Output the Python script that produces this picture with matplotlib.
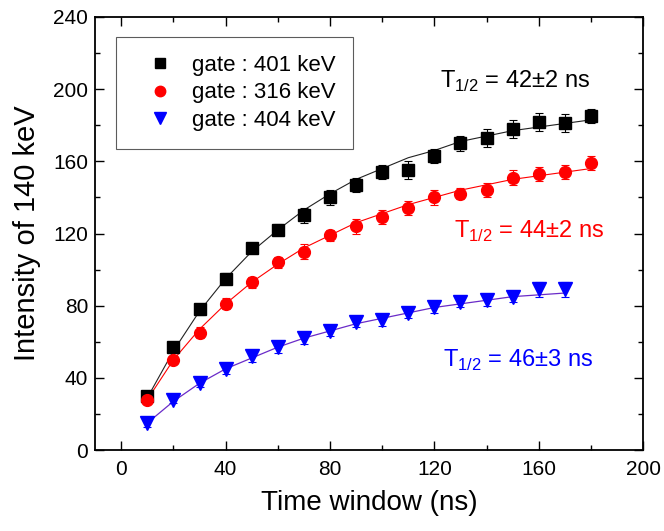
import matplotlib.pyplot as plt
from matplotlib.lines import Line2D
from matplotlib.ticker import MultipleLocator

plt.rcParams['font.family'] = ['Liberation Sans', 'DejaVu Sans']
plt.rcParams['mathtext.fontset'] = 'custom'
plt.rcParams['mathtext.rm'] = 'Liberation Sans'

t = [10, 20, 30, 40, 50, 60, 70, 80, 90, 100, 110, 120, 130, 140, 150, 160, 170, 180]

g401 = [30, 57, 78, 95, 112, 122, 130, 140, 147, 154, 155, 163, 170, 173, 178, 182, 181, 185]
g401_err = [2, 2, 3, 3, 3, 3, 4, 4, 4, 4, 5, 4, 4, 5, 5, 5, 5, 4]
g401_fit = [29, 55, 77, 95, 110, 122, 133, 142, 150, 156, 162, 166, 171, 174, 177, 179, 181, 183]

g316 = [28, 50, 65, 81, 93, 104, 110, 119, 124, 129, 134, 140, 142, 144, 151, 153, 154, 159]
g316_err = [2, 2, 3, 3, 3, 3, 4, 3, 4, 4, 4, 4, 3, 4, 4, 4, 4, 4]
g316_fit = [28, 50, 67, 81, 93, 103, 112, 119, 126, 131, 136, 140, 144, 147, 150, 152, 154, 156]

t404 = t[:17]
g404 = [15, 28, 37, 45, 52, 57, 62, 66, 71, 72, 76, 79, 82, 83, 85, 89, 89]
g404_err = [2, 2, 2, 3, 3, 3, 3, 3, 3, 3, 3, 3, 3, 3, 3, 4, 4]
g404_fit = [15, 27, 37, 45, 51, 57, 62, 66, 70, 73, 76, 79, 81, 83, 85, 86, 87]

labels = ['gate : 401 keV', 'gate : 316 keV', 'gate : 404 keV']
half_lives = ['42±2', '44±2', '46±3']

fig = plt.figure(figsize=(6.64, 5.31), dpi=100)
ax = fig.add_axes([0.1434, 0.1525, 0.825, 0.8155])

ax.plot(t, g401_fit, color='#222222', lw=0.8)
ax.plot(t, g316_fit, color='red', lw=0.8)
ax.plot(t404, g404_fit, color='#6a2bc8', lw=0.9)

ax.errorbar(t, g401, yerr=g401_err, fmt='s', color='black', ms=8.5,
            capsize=3, elinewidth=0.8, capthick=0.8)
ax.errorbar(t, g316, yerr=g316_err, fmt='o', color='red', ms=8.5,
            capsize=3, elinewidth=0.8, capthick=0.8)
ax.errorbar(t404, g404, yerr=g404_err, fmt='v', color='blue', ms=9.5,
            capsize=3, elinewidth=0.8, capthick=0.8)

ax.set_xlim(-10, 200)
ax.set_ylim(0, 240)
ax.xaxis.set_major_locator(MultipleLocator(40))
ax.xaxis.set_minor_locator(MultipleLocator(20))
ax.yaxis.set_major_locator(MultipleLocator(40))
ax.yaxis.set_minor_locator(MultipleLocator(20))
ax.tick_params(which='both', direction='in', top=True, right=True, labelsize=15, width=1.0)
ax.tick_params(which='major', length=6.5)
ax.tick_params(which='minor', length=3.5)
ax.tick_params(axis='x', pad=7)
ax.tick_params(axis='y', pad=5)
for s in ax.spines.values():
    s.set_linewidth(1.3)

ax.set_xlabel('Time window (ns)', fontsize=20, labelpad=8)
ax.set_ylabel('Intensity of 140 keV', fontsize=21, labelpad=9)

handles = [
    Line2D([], [], ls='none', marker='s', color='black', ms=7),
    Line2D([], [], ls='none', marker='o', color='red', ms=7.5),
    Line2D([], [], ls='none', marker='v', color='blue', ms=8),
]
leg = ax.legend(handles, labels, loc='upper left', bbox_to_anchor=(0.038, 0.954),
                borderaxespad=0, fontsize=16, frameon=True, fancybox=False,
                edgecolor='#333333', handlelength=2.4, handletextpad=0.2,
                borderpad=0.8, labelspacing=0.3)
leg.get_frame().set_linewidth(0.8)

ax.text(122, 201, r'T$_{\mathregular{1/2}}$ = ' + half_lives[0] + ' ns',
        fontsize=17, color='black', va='baseline')
ax.text(127.5, 117.5, r'T$_{\mathregular{1/2}}$ = ' + half_lives[1] + ' ns',
        fontsize=17, color='red', va='baseline')
ax.text(123.5, 46, r'T$_{\mathregular{1/2}}$ = ' + half_lives[2] + ' ns',
        fontsize=17, color='blue', va='baseline')

fig.savefig('out.png', dpi=100)
